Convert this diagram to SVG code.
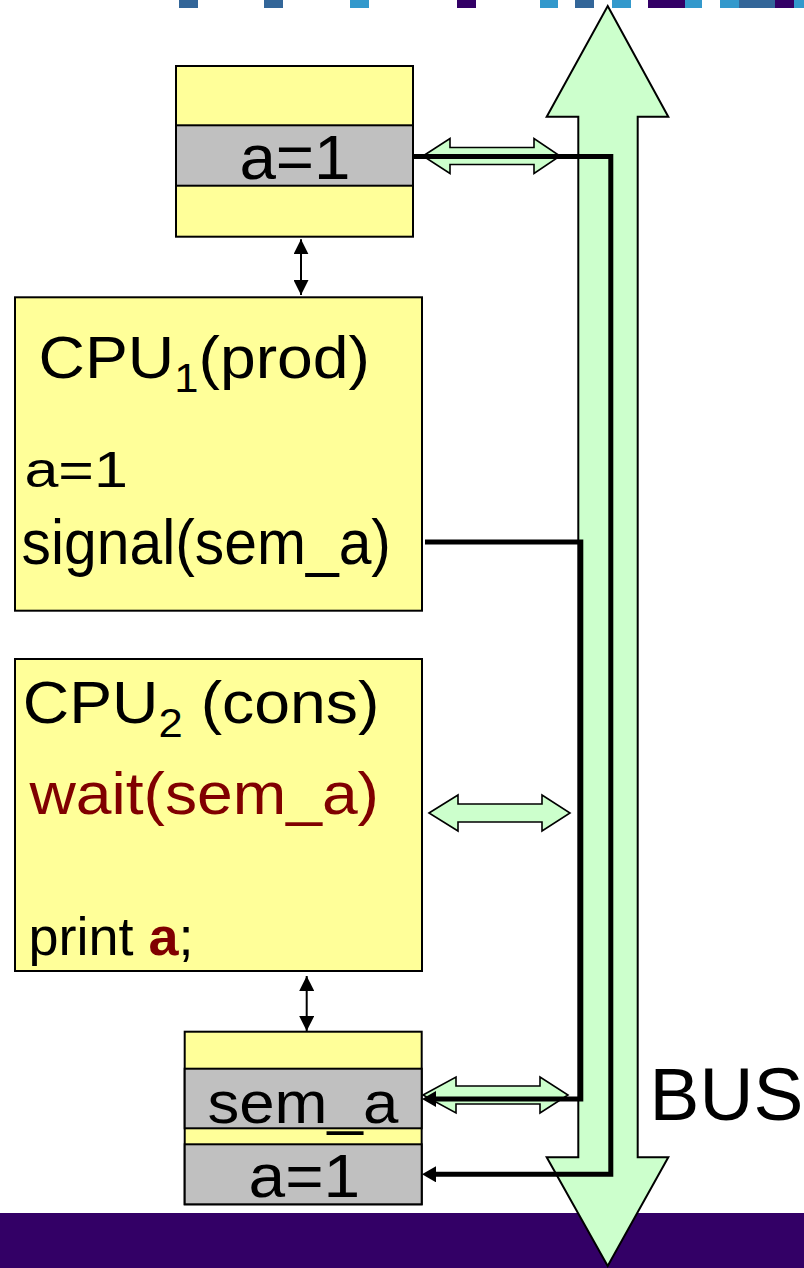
<svg xmlns="http://www.w3.org/2000/svg" width="804" height="1268" viewBox="0 0 804 1268">
<style>
  text { font-family: "Liberation Sans", Arial, sans-serif; fill: #000; }
  .box { fill: #ffff99; stroke: #000; stroke-width: 2; }
  .cell { fill: #c0c0c0; stroke: #000; stroke-width: 2; }
  .bus { fill: #ccffcc; stroke: #000; stroke-width: 2; stroke-linejoin: miter; }
  .garrow { fill: #ccffcc; stroke: #000; stroke-width: 1.6; }
  .thin { fill: none; stroke: #000; stroke-width: 2; marker-start: url(#tip); marker-end: url(#tip); }
  .thick { fill: none; stroke: #000; stroke-width: 5; stroke-linejoin: miter; }
  .red { fill: #800000; }
  .b1 { fill: #336699; } .b2 { fill: #3399cc; } .b3 { fill: #330066; }
</style>
<defs>
  <marker id="tip" markerUnits="userSpaceOnUse" viewBox="0 0 15 15" markerWidth="15" markerHeight="15" refX="15" refY="7.5" orient="auto-start-reverse">
    <path d="M0,0 L15,7.5 L0,15 z" fill="#000"/>
  </marker>
  <marker id="head" markerUnits="userSpaceOnUse" viewBox="0 0 14 16" markerWidth="14" markerHeight="16" refX="0" refY="8" orient="auto">
    <path d="M0,0 L14,8 L0,16 z" fill="#000"/>
  </marker>
</defs>

<rect width="804" height="1268" fill="#fff"/>

<!-- decorative top strip -->
<g id="top-strip">
  <rect class="b1" x="179" y="0" width="19" height="8"/>
  <rect class="b1" x="264" y="0" width="19" height="8"/>
  <rect class="b2" x="350" y="0" width="19" height="8"/>
  <rect class="b3" x="457" y="0" width="19" height="8"/>
  <rect class="b2" x="540" y="0" width="18" height="8"/>
  <rect class="b1" x="575" y="0" width="19" height="8"/>
  <rect class="b2" x="612" y="0" width="19" height="8"/>
  <rect class="b3" x="648" y="0" width="37" height="8"/>
  <rect class="b2" x="685" y="0" width="17" height="8"/>
  <rect class="b2" x="720" y="0" width="19" height="8"/>
  <rect class="b1" x="739" y="0" width="36" height="8"/>
  <rect class="b3" x="775" y="0" width="19" height="8"/>
  <rect class="b2" x="794" y="0" width="10" height="8"/>
</g>

<!-- bottom band -->
<rect id="bottom-band" x="0" y="1213" width="804" height="55" fill="#330066"/>

<!-- BUS -->
<g id="bus">
  <polygon class="bus" points="607.7,6 668.3,116.7 637.7,116.7 637.7,1157.3 668.3,1157.3 607.7,1266 546.7,1157.3 578.3,1157.3 578.3,116.7 546.7,116.7"/>
  <text transform="translate(649.6,1119.5) scale(1.01,1)" font-size="74">BUS</text>
</g>

<!-- top memory -->
<g id="memory-top">
  <rect class="box" x="176" y="66" width="237" height="170.7"/>
  <rect class="cell" x="176" y="125.3" width="237" height="60.4"/>
  <text transform="translate(239.4,179.3) scale(1.04,1)" font-size="63">a=1</text>
</g>

<!-- CPU1 -->
<g id="cpu1">
  <rect class="box" x="15" y="297.3" width="407" height="313.4"/>
  <text transform="translate(38.5,378.3) scale(1.09,1)" font-size="59">CPU<tspan font-size="40" dy="13.5">1</tspan><tspan dy="-13.5">(prod)</tspan></text>
  <text transform="translate(24.4,487) scale(1.22,1)" font-size="50">a=1</text>
  <text transform="translate(21.5,563.5) scale(0.934,1)" font-size="63">signal(sem_a)</text>
</g>

<!-- CPU2 -->
<g id="cpu2">
  <rect class="box" x="15" y="659" width="407" height="312"/>
  <text transform="translate(22.8,723.3) scale(1.09,1)" font-size="59">CPU<tspan font-size="40" dy="14">2</tspan><tspan dy="-14"> (cons)</tspan></text>
  <text class="red" transform="translate(29.4,814) scale(1.07,1)" font-size="60">wait(sem_a)</text>
  <text x="28.5" y="955" font-size="54">print <tspan class="red" font-weight="bold">a</tspan>;</text>
</g>

<!-- bottom memory -->
<g id="memory-bottom">
  <rect class="box" x="184.7" y="1031.7" width="237" height="172.6"/>
  <rect class="cell" x="184.7" y="1068.7" width="237" height="59.6"/>
  <rect class="cell" x="184.7" y="1144.3" width="237" height="60"/>
  <text transform="translate(207.4,1123.3) scale(1.06,1)" font-size="60">sem_a</text>
  <text transform="translate(248.6,1197.3) scale(1.07,1)" font-size="61.5">a=1</text>
</g>

<!-- connectors -->
<g id="connectors">
  <line class="thin" x1="301" y1="239.3" x2="301" y2="295"/>
  <line class="thin" x1="306.7" y1="976" x2="306.7" y2="1031"/>
  <polygon class="garrow" points="423,156 450,138.5 450,147.5 534,147.5 534,138.5 560,156 534,173.5 534,164.5 450,164.5 450,173.5"/>
  <polygon class="garrow" points="429,813 458,795 458,804 542,804 542,795 570,813 542,831 542,822 458,822 458,831"/>
  <polygon class="garrow" points="423,1095 456,1077 456,1086 540,1086 540,1077 568,1095 540,1113 540,1104 456,1104 456,1113"/>
  <path class="thick" d="M413,156.5 H610.8 V1174.3 H436" marker-end="url(#head)"/>
  <path class="thick" d="M425,542 H580.8 V1099 H436" marker-end="url(#head)"/>
</g>
</svg>
